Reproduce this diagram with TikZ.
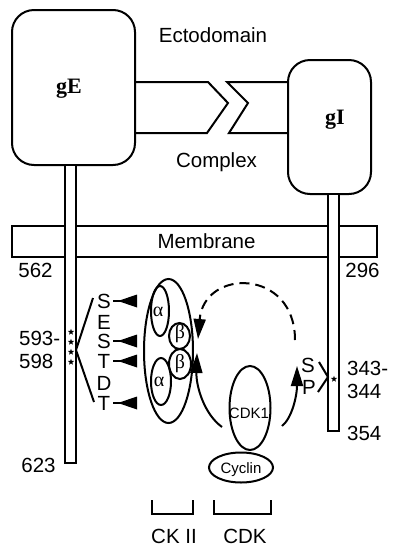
\documentclass[tikz,border=0pt]{standalone}
\usepackage{fontspec}
\setmainfont{Liberation Sans}
\newfontfamily\tnr{Liberation Serif}
\usetikzlibrary{arrows.meta,shapes.geometric}
\begin{document}
\begin{tikzpicture}[x=1pt,y=-1pt,
  ln/.style={line width=2pt},
  gbox/.style={draw, line width=2pt, rounded corners=22pt, inner sep=0pt},
  lbl/.style={font=\fontsize{20.5}{20.5}\selectfont, inner sep=0pt, text height=14.6pt, text depth=0pt},
  smalllbl/.style={font=\fontsize{15}{15}\selectfont, inner sep=0pt, text height=10.7pt, text depth=0pt},
  gname/.style={font=\tnr\bfseries\fontsize{22}{22}\selectfont, inner sep=0pt},
  greek/.style={font=\tnr\fontsize{20}{20}\selectfont, inner sep=0pt},
  ell/.style={draw, ellipse, line width=2pt, inner sep=0pt},
  stemst/.style={draw, fill=white, line width=2pt},
  head/.style={-{Triangle[length=20pt,width=12pt]}, line width=2pt},
  starmark/.style={star, star points=5, star point ratio=2.4, fill=black, inner sep=0pt, minimum size=6.5pt},
  leftmark/.style={fill=black}
]
\useasboundingbox (0,0) rectangle (400,555);

% membrane
\draw[ln] (12,226) rectangle (377,257);

% gE and gI boxes
\node[gbox, minimum width=123pt, minimum height=155pt] (gE) at (73.5,87.5) {};
\node[gbox, minimum width=83pt, minimum height=134pt] (gI) at (329.5,127) {};
\node[gname] (gEt) at (69,89) {gE};
\node[gname] (gIt) at (335,120) {gI};

% complex chevrons
\draw[ln] (135,82) -- (208,82) -- (228,103) -- (207,133) -- (135,133);
\draw[ln] (288,82) -- (227,82) -- (248,103) -- (229,133) -- (288,133);
\node[lbl] (ecto) at (213,35.5) {Ectodomain};
\node[lbl] (cplx) at (216.5,160) {Complex};

% stems
\draw[stemst] (65,165) rectangle (76,463);
\draw[stemst] (328,194) rectangle (339,431);
\node[lbl] (memb) at (206.5,241) {Membrane};

% residue numbers
\node[lbl] (n562) at (35.5,270) {562};
\node[lbl] (n296) at (362.5,270) {296};
\node[lbl, anchor=west] (n593) at (19,338) {593-};
\node[lbl, anchor=west] (n598) at (19,361) {598};
\node[lbl] (n623) at (38.5,465) {623};
\node[lbl, anchor=west] (n343) at (347,368) {343-};
\node[lbl, anchor=west] (n344) at (347,391) {344};
\node[lbl, anchor=west] (n354) at (347,433) {354};

% gE stars and site bracket
\foreach \yy [count=\i] in {332,342,352,362} \node[starmark] (st\i) at (71,\yy) {};
\draw[ln] (93,298) -- (76,350) -- (94,402);

% residues
\node[lbl] (rS1) at (104,301) {S};
\node[lbl] (rE) at (104,322) {E};
\node[lbl] (rS2) at (104,341) {S};
\node[lbl] (rT1) at (104,361) {T};
\node[lbl] (rD) at (104,383) {D};
\node[lbl] (rT2) at (104,403) {T};
\foreach \yy in {301,341,361,403} {
  \draw[line width=1.6pt] (113,\yy) -- (130,\yy);
  \fill[leftmark] (118,\yy) -- (137,\yy-6.5) -- (137,\yy+6.5) -- cycle;
}

% CK II
\node[ell, minimum width=49pt, minimum height=144pt] (ck) at (168.5,351) {};
\node[ell, minimum width=18pt, minimum height=50pt] (a1) at (160,311) {};
\node[ell, minimum width=20pt, minimum height=47pt] (a2) at (161,381.5) {};
\node[ell, minimum width=21pt, minimum height=26pt] (b1) at (179.5,336) {};
\node[ell, minimum width=22pt, minimum height=30pt] (b2) at (180,364) {};
\node[greek] (a1t) at (158,312) {α};
\node[greek] (a2t) at (159,382) {α};
\node[greek] (b1t) at (180,334) {β};
\node[greek] (b2t) at (180,364) {β};

% CDK
\node[ell, minimum width=41pt, minimum height=84pt] (cdk) at (250,408) {};
\node[smalllbl] (cdkt) at (249,413) {CDK1};
\node[ell, minimum width=64pt, minimum height=30pt, fill=white] (cyc) at (241,467.5) {};
\node[smalllbl] (cyct) at (241,468) {Cyclin};

% arrows
\coordinate (dstart) at (295,340);
\coordinate (dend) at (198,339);
\draw[head, dash pattern=on 10pt off 6pt] (dstart) .. controls (295,268) and (204,268) .. (dend);
\coordinate (lstart) at (222,427);
\coordinate (lend) at (197,353);
\draw[head] (lstart) .. controls (204,414) and (196,386) .. (lend);
\coordinate (rstart) at (282,426);
\coordinate (rend) at (297,366);
\draw[head] (rstart) .. controls (292,418) and (297,396) .. (rend);

% gI site
\node[lbl] (pS) at (308,365) {S};
\node[lbl] (pP) at (309,387) {P};
\draw[ln] (319,362) -- (328,377) -- (318,392);
\node[starmark] (st5) at (334,379) {};

% brackets
\draw[ln] (152,500) -- (152,514) -- (193,514) -- (193,500);
\draw[ln] (214,500) -- (214,514) -- (271,514) -- (271,500);
\node[lbl] (ckl) at (174,536) {CK II};
\node[lbl] (cdkl) at (245,536) {CDK};
\end{tikzpicture}
\end{document}
